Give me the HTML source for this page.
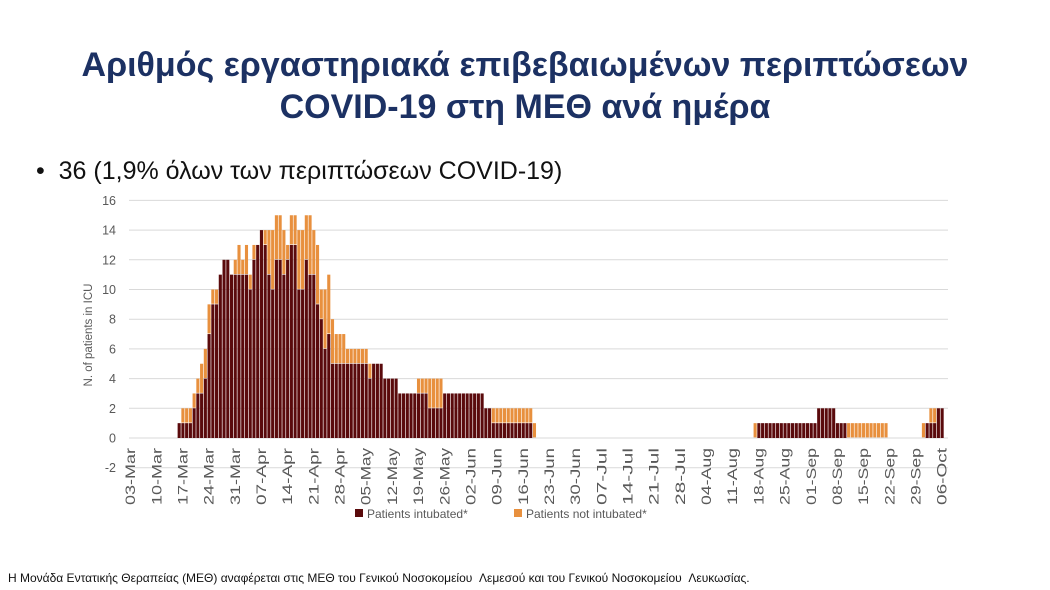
<!DOCTYPE html>
<html><head><meta charset="utf-8"><style>
body{margin:0;width:1050px;height:590px;background:#fff;overflow:hidden;font-family:"Liberation Sans",sans-serif;}
.t{position:absolute;left:0;width:1050px;text-align:center;color:#1c3163;font-weight:bold;font-size:34px;}
</style></head><body>
<div class="t" style="top:46px">Αριθμός εργαστηριακά επιβεβαιωμένων περιπτώσεων</div>
<div class="t" style="top:88px">COVID-19 στη ΜΕΘ ανά ημέρα</div>
<div style="position:absolute;left:36px;top:157px;font-size:25px;color:#111">•&nbsp; 36 (1,9% όλων των περιπτώσεων COVID-19)</div>
<svg id="c" width="1050" height="590" style="position:absolute;left:0;top:0" font-family="Liberation Sans, sans-serif"></svg>
<div style="position:absolute;left:8px;top:571px;font-size:12px;color:#111">Η Μονάδα Εντατικής Θεραπείας (ΜΕΘ) αναφέρεται στις ΜΕΘ του Γενικού Νοσοκομείου &nbsp;Λεμεσού και του Γενικού Νοσοκομείου &nbsp;Λευκωσίας.</div>
<script>
var s='',y0=438,u=14.85,x0=129,p=3.74;
for(var v=-2;v<=16;v+=2){var y=y0-v*u;s+='<line x1="129" x2="948" y1="'+y+'" y2="'+y+'" stroke="#d9d9d9" stroke-width="1"/>';
s+='<text x="116" y="'+(y+4.5)+'" text-anchor="end" font-size="12.5" fill="#595959">'+v+'</text>';}
s+='<text transform="translate(92,335) rotate(-90)" text-anchor="middle" font-size="11.5" fill="#595959">N. of patients in ICU</text>';
var T=[],I=[];for(var i=0;i<218;i++){T[i]=0;I[i]=0;}
function set(a,b,t,d){for(var i=a;i<=b;i++){T[i]=t;I[i]=d;}}
var L=[[1,1],[2,1],[2,1],[2,1],[3,2],[4,3],[5,3],[6,4],[9,7],[10,9],[10,9],[11,11],[12,12],[12,12],[11,11],[12,11],[13,11],[12,11],[13,11],[11,10],[13,12],[13,13],[14,14],[14,13],[14,11],[14,10],[15,12],[15,12],[14,11],[13,12],[15,13],[15,13],[14,10],[14,10],[15,12],[15,11],[14,11],[13,9],[10,8],[10,6],[11,7],[8,5],[7,5],[7,5]];
for(var k=0;k<L.length;k++){T[13+k]=L[k][0];I[13+k]=L[k][1];}
set(57,57,7,5);set(58,63,6,5);set(64,64,5,4);set(65,67,5,5);set(68,71,4,4);set(72,76,3,3);set(77,79,4,3);set(80,83,4,2);set(84,94,3,3);set(95,96,2,2);set(97,107,2,1);set(108,108,1,0);
set(167,167,1,0);set(168,183,1,1);set(184,188,2,2);set(189,191,1,1);set(192,202,1,0);set(212,212,1,0);set(213,213,1,1);set(214,215,2,1);set(216,217,2,2);
for(var i=0;i<218;i++){var x=x0+i*p;
if(I[i])s+='<rect x="'+x+'" width="3.1" y="'+(y0-I[i]*u)+'" height="'+(I[i]*u)+'" fill="#5a0a0c"/>';
if(T[i]>I[i])s+='<rect x="'+x+'" width="3.1" y="'+(y0-T[i]*u)+'" height="'+((T[i]-I[i])*u-0.6)+'" fill="#e8903e"/>';}
var lb=['03-Mar','10-Mar','17-Mar','24-Mar','31-Mar','07-Apr','14-Apr','21-Apr','28-Apr','05-May','12-May','19-May','26-May','02-Jun','09-Jun','16-Jun','23-Jun','30-Jun','07-Jul','14-Jul','21-Jul','28-Jul','04-Aug','11-Aug','18-Aug','25-Aug','01-Sep','08-Sep','15-Sep','22-Sep','29-Sep','06-Oct'];
for(var j=0;j<lb.length;j++){var x=x0+1.6+j*7*p+4.5;s+='<text transform="translate('+x+',448) rotate(-90)" text-anchor="end" font-size="13.5" textLength="57" lengthAdjust="spacingAndGlyphs" fill="#595959">'+lb[j]+'</text>';}
s+='<rect x="355" y="509" width="8" height="8" fill="#5a0a0c"/><text x="367" y="518" font-size="12" fill="#595959">Patients intubated*</text>';
s+='<rect x="514" y="509" width="8" height="8" fill="#e8903e"/><text x="526" y="518" font-size="12" fill="#595959">Patients not intubated*</text>';
document.getElementById('c').innerHTML=s;
</script>
</body></html>
